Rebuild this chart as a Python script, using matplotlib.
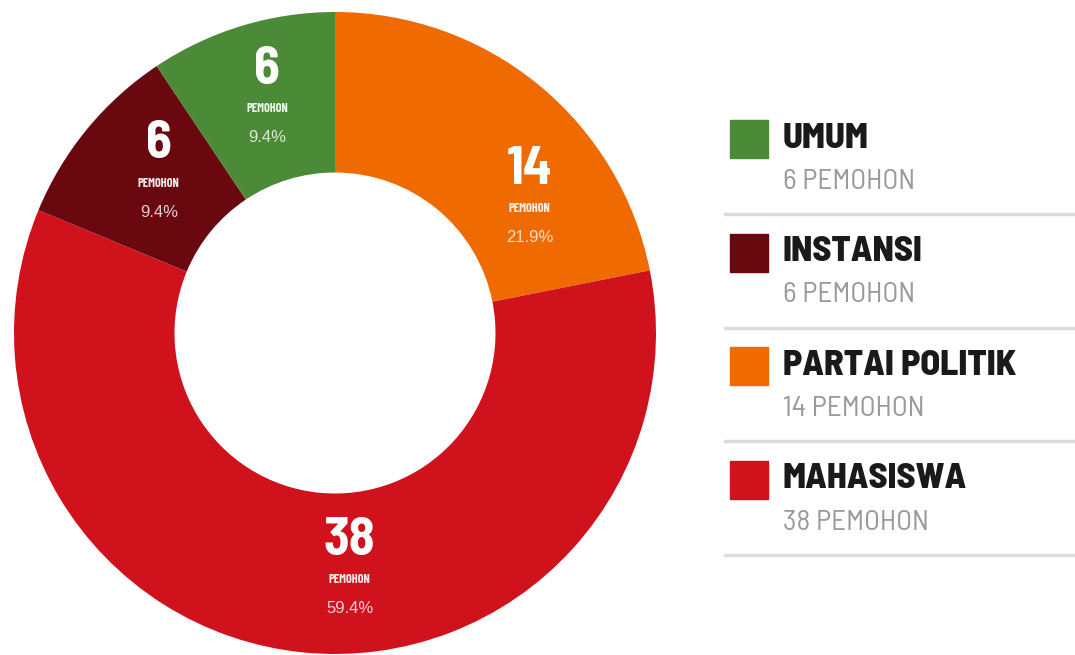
import matplotlib.pyplot as plt
import numpy as np
from matplotlib.patches import Rectangle
from matplotlib.lines import Line2D

# data (urutan searah jarum jam dari atas)
kategori = ['PARTAI POLITIK', 'MAHASISWA', 'INSTANSI', 'UMUM']
pemohon = [14, 38, 6, 6]
warna = ['#ef6a00', '#d0121d', '#6a0810', '#4b8a36']
geser_sudut = [-18, 9, -1, 0]  # label tidak persis di tengah irisan
jarak_label = [0.72, 0.77, 0.72, 0.73]

# urutan legenda
legend_urut = ['UMUM', 'INSTANSI', 'PARTAI POLITIK', 'MAHASISWA']

huruf = ['Barlow Semi Condensed', 'DejaVu Sans']
huruf_kecil = ['Barlow Condensed', 'DejaVu Sans']
huruf_angka = ['Liberation Sans', 'DejaVu Sans']

total = sum(pemohon)
persen = ['{:.1f}%'.format(100 * v / total) for v in pemohon]

fig = plt.figure(figsize=(10.75, 6.55), dpi=100)
fig.patch.set_facecolor('white')
ax = fig.add_axes([14 / 1075, 1 / 655, 642 / 1075, 642 / 655])
wedges, _ = ax.pie(pemohon, colors=warna, startangle=90, counterclock=False, radius=1,
                   wedgeprops=dict(width=0.5, linewidth=0))
ax.set_xlim(-1, 1)
ax.set_ylim(-1, 1)
ax.set_aspect('equal')
ax.axis('off')

for w, n, p, g, r in zip(wedges, pemohon, persen, geser_sudut, jarak_label):
    sudut = np.deg2rad((w.theta1 + w.theta2) / 2 + g)
    x, y = r * np.cos(sudut), r * np.sin(sudut)
    ax.annotate(str(n), (x, y), xytext=(0, 28), textcoords='offset points', ha='center', va='center',
                color='white', fontsize=38, fontweight='bold', family=huruf, fontstretch='semi-condensed')
    ax.annotate('PEMOHON', (x, y), ha='center', va='center', color='white', fontsize=9,
                fontweight='bold', family=huruf_kecil, fontstretch='condensed', alpha=0.9)
    ax.annotate(p, (x, y), xytext=(0, -21), textcoords='offset points', ha='center', va='center',
                color='white', fontsize=12, family=huruf_angka, alpha=0.8)

# legenda manual
W, H = 1075, 655
for i, nama in enumerate(legend_urut):
    n = pemohon[kategori.index(nama)]
    c = warna[kategori.index(nama)]
    y0 = 139 + i * 113.5
    fig.add_artist(Rectangle((730 / W, 1 - (y0 + 19) / H), 38 / W, 38 / H, color=c,
                             transform=fig.transFigure))
    fig.text(783 / W, 1 - y0 / H, nama, ha='left', va='center', fontsize=26, fontweight='heavy',
             color='#1a1a1a', family=huruf, fontstretch='semi-condensed')
    fig.text(783 / W, 1 - (y0 + 43) / H, '{} PEMOHON'.format(n), ha='left', va='center', fontsize=21,
             color='#9a9a9a', family=huruf, fontstretch='semi-condensed')
    fig.add_artist(Line2D([725 / W, 1], [1 - (y0 + 75) / H] * 2, color='#dcdcdc', lw=2.5,
                          transform=fig.transFigure))

fig.savefig('out.png', dpi=100, facecolor='white')
